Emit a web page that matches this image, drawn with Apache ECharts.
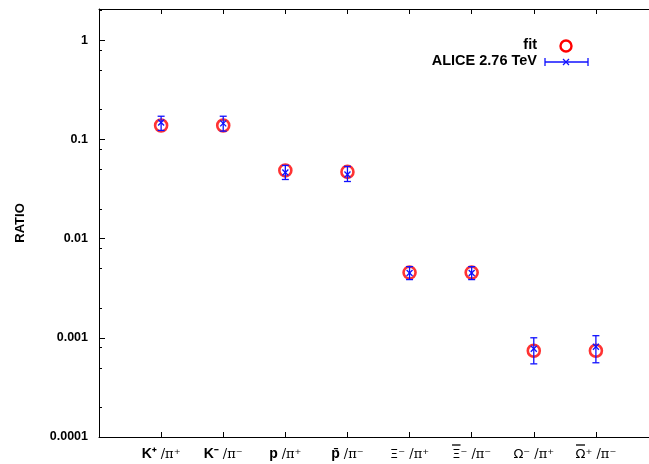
<!DOCTYPE html>
<html>
<head>
<meta charset="utf-8">
<script src="https://cdn.jsdelivr.net/npm/echarts@6/dist/echarts.min.js"></script>
<style>html,body{margin:0;padding:0;background:#fff;}#c{width:649px;height:464px;}</style>
</head>
<body>
<div id="c"></div>
<script>
// Categories (particle ratios) as rich-text labels; first line carries an overbar where needed
const categories = [
  '{e| }\n{b|K⁺ }{g|/π⁺}',
  '{e| }\n{b|K⁻ }{g|/π⁻}',
  '{e| }\n{b|p }{g|/π⁺}',
  '{e| }\n{b|p̄ }{g|/π⁻}',
  '{e| }\n{s|Ξ⁻ }{g|/π⁺}',
  '{barX| }{hs|⁻ }{hg|/π⁻}\n{s|Ξ⁻ }{g|/π⁻}',
  '{e| }\n{s|Ω⁻ }{g|/π⁺}',
  '{barO| }{hs|⁺ }{hg|/π⁻}\n{s|Ω⁺ }{g|/π⁻}'
];
const fitValues   = [0.138, 0.138, 0.0486, 0.047, 0.00454, 0.00454, 0.00074, 0.00074];
const aliceValues = [0.148, 0.145, 0.0464, 0.0443, 0.0045, 0.0045, 0.000774, 0.000811];
const aliceLow    = [0.123, 0.121, 0.0394, 0.0376, 0.00386, 0.00386, 0.000546, 0.00056];
const aliceHigh   = [0.171, 0.171, 0.0546, 0.0533, 0.00521, 0.00521, 0.00100, 0.00105];
const yTickLabels = {'0.0001':'0.0001','0.001':'0.001','0.01':'0.01','0.1':'0.1','1':'1'};
const yMinorTicks = [0.0002, 0.0005, 0.0008, 0.002, 0.005, 0.008, 0.02, 0.05, 0.08, 0.2, 0.5, 0.8, 2];
const legendNames = ['fit', 'ALICE 2.76 TeV'];

const blue = '#1010ff';
const red = '#ff0000';

const fitData = fitValues.map((v, i) => [i + 1, v]);
const aliceData = aliceValues.map((v, i) => [i + 1, v, aliceLow[i], aliceHigh[i]]);
const minorData = yMinorTicks.map(v => [0, v]);

const chart = echarts.init(document.getElementById('c'));
const font = '"Liberation Sans", Arial, sans-serif';
const xMax = 8.855;
const lblH = 15;

chart.setOption({
  animation: false,
  backgroundColor: '#fff',
  grid: { left: 99, top: 9, right: 0, bottom: 27 },
  graphic: [
    { type: 'text', right: 112, top: 37,
      style: { text: legendNames[0], font: 'bold 14.5px "Liberation Sans", Arial, sans-serif', fill: '#000', textAlign: 'right' } },
    { type: 'text', right: 112, top: 53,
      style: { text: legendNames[1], font: 'bold 14.5px "Liberation Sans", Arial, sans-serif', fill: '#000', textAlign: 'right' } },
    { type: 'circle', shape: { cx: 566, cy: 46, r: 5.5 }, style: { fill: 'none', stroke: red, lineWidth: 2.4 } },
    { type: 'group', children: [
      { type: 'line', shape: { x1: 545, y1: 62, x2: 588, y2: 62 }, style: { stroke: blue, lineWidth: 1.3 } },
      { type: 'line', shape: { x1: 545, y1: 58, x2: 545, y2: 66 }, style: { stroke: blue, lineWidth: 1.3 } },
      { type: 'line', shape: { x1: 588, y1: 58, x2: 588, y2: 66 }, style: { stroke: blue, lineWidth: 1.3 } },
      { type: 'line', shape: { x1: 563, y1: 59, x2: 569, y2: 65 }, style: { stroke: blue, lineWidth: 1.3 } },
      { type: 'line', shape: { x1: 563, y1: 65, x2: 569, y2: 59 }, style: { stroke: blue, lineWidth: 1.3 } }
    ] }
  ],
  xAxis: [
    {
      type: 'value', min: 0, max: xMax, interval: 1, position: 'bottom',
      axisLine: { show: true, onZero: false, lineStyle: { color: '#000', width: 1 } },
      axisTick: { show: true, inside: true, length: 5, lineStyle: { color: '#000' } },
      splitLine: { show: false },
      axisLabel: {
        margin: 6, showMaxLabel: false,
        formatter: function (v) { return (v >= 1 && v <= 8) ? categories[v - 1] : ''; },
        rich: {
          e: { fontSize: 4, lineHeight: 4, height: 4 },
          barX: { width: 8.5, height: 1.3, lineHeight: 4, backgroundColor: '#000', fontSize: 1 },
          barO: { width: 9, height: 1.3, lineHeight: 4, backgroundColor: '#000', fontSize: 1 },
          hs: { fontFamily: '"DejaVu Sans", sans-serif', fontSize: 13, lineHeight: 4, height: 4, color: 'rgba(0,0,0,0)' },
          hg: { fontFamily: '"DejaVu Serif", "Liberation Serif", serif', fontSize: 13, lineHeight: 4, height: 4, color: 'rgba(0,0,0,0)' },
          b: { fontFamily: font, fontWeight: 'bold', fontSize: 14, lineHeight: lblH, color: '#000' },
          s: { fontFamily: '"DejaVu Sans", sans-serif', fontSize: 13, lineHeight: lblH, color: '#000' },
          g: { fontFamily: '"DejaVu Serif", "Liberation Serif", serif', fontSize: 13, lineHeight: lblH, color: '#000' }
        }
      }
    },
    {
      type: 'value', min: 0, max: xMax, interval: 1, position: 'top',
      axisLine: { show: true, onZero: false, lineStyle: { color: '#000', width: 1 } },
      axisTick: { show: true, inside: true, length: 5, lineStyle: { color: '#000' } },
      axisLabel: { show: false },
      splitLine: { show: false }
    }
  ],
  yAxis: {
    type: 'log', logBase: 10, min: 0.0001, max: 2.06,
    name: 'RATIO', nameLocation: 'middle', nameRotate: 90, nameGap: 72,
    nameTextStyle: { fontFamily: font, fontWeight: 'bold', fontSize: 13, color: '#000' },
    axisLine: { show: true, onZero: false, lineStyle: { color: '#000', width: 1 } },
    axisTick: { show: true, inside: true, length: 6, lineStyle: { color: '#000' } },
    minorTick: { show: false },
    splitLine: { show: false },
    axisLabel: {
      margin: 11, showMaxLabel: false,
      fontFamily: font, fontWeight: 'bold', fontSize: 12.5, color: '#000',
      formatter: function (v) {
        const k = String(+v.toPrecision(3));
        return yTickLabels[k] !== undefined ? yTickLabels[k] : '';
      }
    }
  },
  series: [
    {
      name: 'minor ticks', type: 'custom', silent: true, clip: false,
      data: minorData, z: 1,
      renderItem: function (params, api) {
        const p = api.coord([api.value(0), api.value(1)]);
        const y = Math.round(p[1]) + 0.5;
        return { type: 'line', shape: { x1: p[0], y1: y, x2: p[0] + 3, y2: y },
                 style: { stroke: '#000', lineWidth: 1 } };
      }
    },
    {
      name: legendNames[0], type: 'scatter',
      symbol: 'circle', symbolSize: 12,
      itemStyle: { color: 'rgba(255,255,255,0)', borderColor: red, borderWidth: 2.6 },
      data: fitData, z: 2
    },
    {
      name: legendNames[1], type: 'custom',
      itemStyle: { color: blue },
      data: aliceData, z: 3,
      renderItem: function (params, api) {
        const x = api.value(0);
        const c = api.coord([x, api.value(1)]);
        const lo = api.coord([x, api.value(2)]);
        const hi = api.coord([x, api.value(3)]);
        const cap = 3.5, cr = 3;
        const st = { stroke: blue, lineWidth: 1.3 };
        return {
          type: 'group',
          children: [
            { type: 'line', shape: { x1: c[0], y1: lo[1], x2: c[0], y2: hi[1] }, style: st },
            { type: 'line', shape: { x1: c[0] - cap, y1: lo[1], x2: c[0] + cap, y2: lo[1] }, style: st },
            { type: 'line', shape: { x1: c[0] - cap, y1: hi[1], x2: c[0] + cap, y2: hi[1] }, style: st },
            { type: 'line', shape: { x1: c[0] - cr, y1: c[1] - cr, x2: c[0] + cr, y2: c[1] + cr }, style: st },
            { type: 'line', shape: { x1: c[0] - cr, y1: c[1] + cr, x2: c[0] + cr, y2: c[1] - cr }, style: st }
          ]
        };
      }
    }
  ]
});
</script>
</body>
</html>
